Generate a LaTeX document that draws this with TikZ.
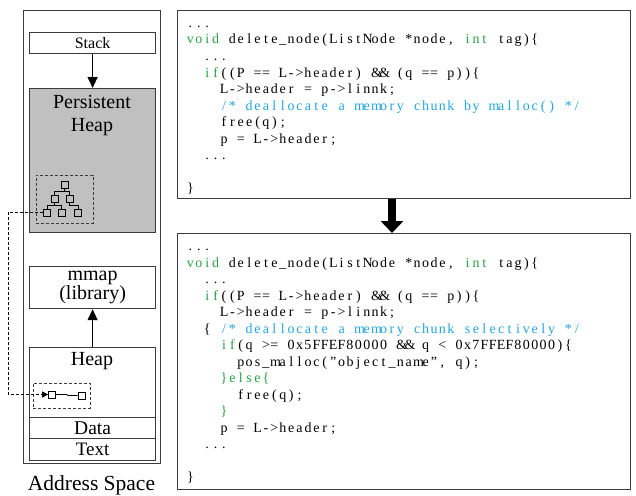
\documentclass[tikz,border=0pt]{standalone}
\usepackage{fontspec}
\setmainfont{Liberation Serif}
\newfontfamily\codefont{Liberation Serif}
\usetikzlibrary{arrows.meta,positioning,calc}
\definecolor{kwgreen}{RGB}{40,160,70}
\definecolor{cmtblue}{RGB}{35,165,225}
\definecolor{heapgray}{RGB}{192,192,192}
\definecolor{framegray}{RGB}{60,60,60}
\newcommand\kwd[1]{\textcolor{kwgreen}{#1}}
\newcommand\cmt[1]{\textcolor{cmtblue}{#1}}
% fixed columns for the listings
\ExplSyntaxOn
\dim_new:N \l_codecol_dim
\dim_set:Nn \l_codecol_dim {8.4pt}
\cs_new_protected:Npn \codecol_char:n #1
  {
    \str_if_eq:eeTF {#1} { \c_backslash_str }
      { }
      { \hbox_to_wd:nn { \l_codecol_dim } { \hfil #1 \hfil } }
  }
\NewDocumentCommand \fc { m }
  { \str_map_function:nN {#1} \codecol_char:n }
\ExplSyntaxOff

\begin{document}
\begin{tikzpicture}[x=1pt,y=-1pt,>={Triangle[width=10pt,length=11pt]}]
\tikzstyle{seg}=[draw=framegray,line width=1.2pt,minimum width=126pt,inner sep=0pt,align=center,anchor=north west]
\tikzstyle{dbox}=[draw=framegray,densely dashed,line width=0.9pt,inner sep=0pt,anchor=north west]
\tikzstyle{sq}=[draw=black,line width=0.7pt,minimum size=7pt,inner sep=0pt]
\tikzstyle{codebox}=[draw=framegray,line width=1.1pt,minimum width=453pt,inner sep=0pt,anchor=north west]
\tikzstyle{code}=[anchor=base west,inner sep=0pt,font=\codefont\fontsize{14}{14}\selectfont]
\useasboundingbox (0,0) rectangle (636,495);
% address space column
\node[seg,minimum width=137pt,minimum height=453pt] (space) at (23,10) {};
\node[font=\fontsize{21.5}{22}\selectfont] (spacelbl) at (91.5,485) {Address Space};
\node[seg,minimum height=21pt,font=\fontsize{16}{16}\selectfont] (stack) at (29,32) {Stack};
\node[seg,minimum height=144pt,fill=heapgray] (pheap) at (29,88) {};
\node[align=center,font=\fontsize{20}{23}\selectfont] (pheaplbl) at (92,116) {Persistent\\Heap};
\node[seg,minimum height=42pt,font=\fontsize{20}{19}\selectfont] (mmap) at (29,266) {\raisebox{-2pt}{mmap}\\(library)};
\node[seg,minimum height=70pt] (heap) at (29,347) {};
\node[font=\fontsize{20}{20}\selectfont] (heaplbl) at (92,361) {Heap};
\node[seg,minimum height=21pt,font=\fontsize{19.5}{19.5}\selectfont] (data) at (29,417) {Data};
\node[seg,minimum height=22pt,font=\fontsize{19}{19}\selectfont] (text) at (29,438) {Text};
\draw[->,line width=1.2pt] (stack) -- (pheap);
\draw[->,line width=1.2pt] (heap) -- (mmap);
% object tree in the persistent heap
\node[dbox,minimum width=57pt,minimum height=48pt] (treebox) at (36,175) {};
\node[sq] (t1) at (64.5,184.5) {};
\node[sq] (t2) at (54.5,198.5) {};
\node[sq] (t3) at (69.5,198.5) {};
\node[sq] (t4) at (47,212.5) {};
\node[sq] (t5) at (61.5,212.5) {};
\node[sq] (t6) at (78,212.5) {};
\draw[line width=0.7pt] (t1.south) -- ++(0,3) -| (t2.north);
\draw[line width=0.7pt] (t1.south) -- ++(0,3) -| (t3.north);
\draw[line width=0.7pt] (t2.south) -- ++(0,3) -| (t4.north);
\draw[line width=0.7pt] (t2.south) -- ++(0,3) -| (t5.north);
\draw[line width=0.7pt] (t3.south) -- ++(0,3) -| (t6.north);
% list in the heap
\node[dbox,minimum width=57pt,minimum height=25pt] (listbox) at (33,383) {};
\node[sq] (l1) at (52,394.5) {};
\node[sq] (l2) at (81.5,395.5) {};
\draw[line width=0.7pt] (l1.east) -- ++(11,0) -- ++(1,1) -- (l2.west);
\coordinate (lead) at (8,300);
\draw[densely dashed,line width=0.9pt,-{Triangle[width=6pt,length=6pt]}] (t4.west) -- (t4.west -| lead) -- (l1.west -| lead) -- (l1.west);
% code before
\node[codebox,minimum height=188pt] (oldcode) at (177,10) {};
\node[code] (o1) at (186,27.5) {\fc{...}};
\node[code] (o2) at (186,44) {\kwd{\fc{void}}\fc{ delete\_node(ListNode *node, }\kwd{\fc{int}}\fc{ tag)\{}};
\node[code] (o3) at ({186+2*8.4},60.5) {\fc{...}};
\node[code] (o4) at ({186+2*8.4},77) {\kwd{\fc{if}}\fc{((P == L->header) \&\& (q == p))\{}};
\node[code] (o5) at ({186+4*8.4},93.5) {\fc{L->header = p->linnk;}};
\node[code] (o6) at ({186+4*8.4},110) {\cmt{\fc{/* deallocate a memory chunk by malloc() */}}};
\node[code] (o7) at ({186+4*8.4},126.5) {\fc{free(q);}};
\node[code] (o8) at ({186+4*8.4},143) {\fc{p = L->header;}};
\node[code] (o9) at ({186+2*8.4},159.5) {\fc{...}};
\node[code] (o10) at (186,192) {\fc{\}}};
% code after
\node[codebox,minimum height=256pt] (newcode) at (177,233) {};
\coordinate (mid) at (392,0);
\draw[line width=8pt,-{Triangle[width=22pt,length=12pt]}] (oldcode.south -| mid) -- (newcode.north -| mid);
\node[code] (n1) at (186,250.5) {\fc{...}};
\node[code] (n2) at (186,267) {\kwd{\fc{void}}\fc{ delete\_node(ListNode *node, }\kwd{\fc{int}}\fc{ tag)\{}};
\node[code] (n3) at ({186+2*8.4},283.5) {\fc{...}};
\node[code] (n4) at ({186+2*8.4},300) {\kwd{\fc{if}}\fc{((P == L->header) \&\& (q == p))\{}};
\node[code] (n5) at ({186+4*8.4},316.5) {\fc{L->header = p->linnk;}};
\node[code] (n6) at ({186+2*8.4},333) {\fc{\{ }\cmt{\fc{/* deallocate a memory chunk selectively */}}};
\node[code] (n7) at ({186+4*8.4},349.5) {\kwd{\fc{if}}\fc{(q >= 0x5FFEF80000 \&\& q < 0x7FFEF80000)\{}};
\node[code] (n8) at ({186+6*8.4},366) {\fc{pos\_malloc(”object\_name”, q);}};
\node[code] (n9) at ({186+4*8.4},382.5) {\kwd{\fc{\}else\{}}};
\node[code] (n10) at ({186+6*8.4},399) {\fc{free(q);}};
\node[code] (n11) at ({186+4*8.4},415.5) {\kwd{\fc{\}}}};
\node[code] (n12) at ({186+4*8.4},432) {\fc{p = L->header;}};
\node[code] (n13) at ({186+2*8.4},448.5) {\fc{...}};
\node[code] (n14) at (186,481) {\fc{\}}};
\end{tikzpicture}
\end{document}
